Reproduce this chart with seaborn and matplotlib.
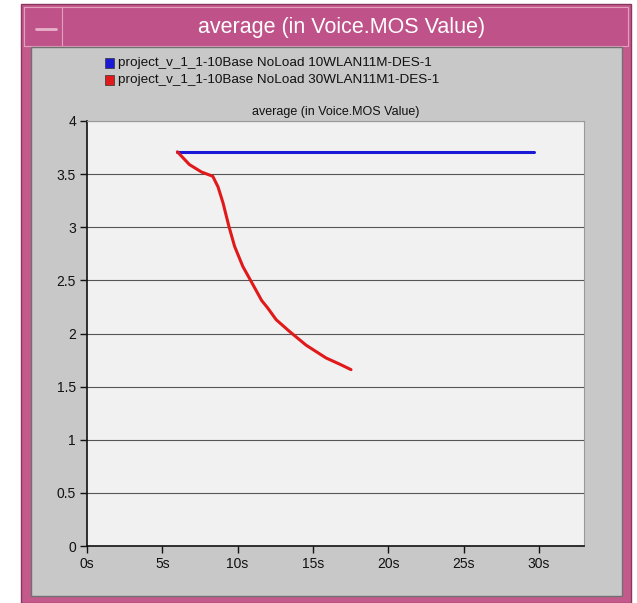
import numpy as np
import pandas as pd
import matplotlib
matplotlib.use("Agg")
import matplotlib.pyplot as plt
from matplotlib.patches import Rectangle
import seaborn as sns

# Simulation results: average Voice MOS value over time
series_names = [
    "project_v_1_1-10Base NoLoad 10WLAN11M-DES-1",
    "project_v_1_1-10Base NoLoad 30WLAN11M1-DES-1",
]
time_10 = [6.0, 10.0, 15.0, 20.0, 25.0, 29.7]
mos_10 = [3.71, 3.71, 3.71, 3.71, 3.71, 3.71]
time_30 = [6.0, 6.8, 7.6, 8.35, 8.7, 9.03, 9.42, 9.8, 10.35, 10.9,
           11.6, 12.0, 12.56, 13.44, 14.55, 15.87, 16.8, 17.53]
mos_30 = [3.71, 3.59, 3.52, 3.48, 3.38, 3.23, 3.01, 2.82, 2.63, 2.49,
          2.31, 2.24, 2.13, 2.02, 1.89, 1.77, 1.71, 1.66]
x_ticks = [0, 5, 10, 15, 20, 25, 30]
x_tick_labels = ["0s", "5s", "10s", "15s", "20s", "25s", "30s"]
y_ticks = [0, 0.5, 1, 1.5, 2, 2.5, 3, 3.5, 4]
y_tick_labels = ["0", "0.5", "1", "1.5", "2", "2.5", "3", "3.5", "4"]
title_text = "average (in Voice.MOS Value)"
line_colors = ["#1a1ad6", "#e01a1a"]

df = pd.concat([
    pd.DataFrame({"time": time_10, "mos": mos_10, "run": series_names[0]}),
    pd.DataFrame({"time": time_30, "mos": mos_30, "run": series_names[1]}),
])

sns.set_theme(style="white")
plt.rcParams["font.family"] = ["Liberation Sans", "DejaVu Sans"]

W, H = 637, 603
fig = plt.figure(figsize=(W / 100, H / 100), dpi=100)
fig.patch.set_facecolor("white")

def px_rect(x0, y0, x1, y1, **kw):
    # rectangle in pixel coordinates (top-left origin)
    r = Rectangle((x0 / W, 1 - y1 / H), (x1 - x0) / W, (y1 - y0) / H,
                  transform=fig.transFigure, zorder=-10, **kw)
    fig.patches.append(r)

# window frame
px_rect(21, 4, 631, 603, facecolor="#c45a8c", edgecolor="#8c3560", lw=1)
px_rect(24, 7, 628, 46, facecolor="#c0528a", edgecolor="#e2a0c0", lw=0.8)
px_rect(24, 7, 62, 46, facecolor="#c0528a", edgecolor="#e2a0c0", lw=0.8)
fig.lines.append(plt.Line2D([36 / W, 56 / W], [1 - 29 / H, 1 - 29 / H],
                            transform=fig.transFigure, color="#e7b3cc", lw=2))
px_rect(31, 47, 622, 596, facecolor="#c8c8c8", edgecolor="#707070", lw=1)

fig.text(342 / W, 1 - 27 / H, title_text, color="white", fontsize=15.5,
         ha="center", va="center")

# legend entries
for i, (name, c) in enumerate(zip(series_names, line_colors)):
    yc = 63 + i * 17
    px_rect(105, yc - 5, 114, yc + 5, facecolor=c, edgecolor="#333333", lw=0.5)
    fig.text(118 / W, 1 - yc / H, name, fontsize=9.7, color="#111111",
             va="center", ha="left")

ax = fig.add_axes([87 / W, 1 - 546 / H, (584 - 87) / W, (546 - 121) / H])
ax.set_zorder(5)
ax.set_facecolor("#f1f1f1")

sns.lineplot(data=df, x="time", y="mos", hue="run", palette=line_colors,
             linewidth=2.2, legend=False, ax=ax, sort=False)

ax.set_xlim(0, 33)
ax.set_ylim(0, 4)
ax.set_xticks(x_ticks)
ax.set_xticklabels(x_tick_labels)
ax.set_yticks(y_ticks)
ax.set_yticklabels(y_tick_labels)
ax.set_xlabel("")
ax.set_ylabel("")
ax.grid(axis="y", color="#555555", lw=0.8)
ax.grid(axis="x", visible=False)
ax.set_axisbelow(True)
ax.tick_params(axis="both", direction="out", length=5, width=1,
               color="#111111", labelsize=10, labelcolor="#111111", pad=3,
               bottom=True, left=True)
for side in ["left", "bottom"]:
    ax.spines[side].set_color("#111111")
    ax.spines[side].set_linewidth(1.2)
for side in ["top", "right"]:
    ax.spines[side].set_color("#9a9a9a")
    ax.spines[side].set_linewidth(0.8)
ax.set_title(title_text, fontsize=9, color="#111111", pad=4)

fig.savefig("out.png", dpi=100)
